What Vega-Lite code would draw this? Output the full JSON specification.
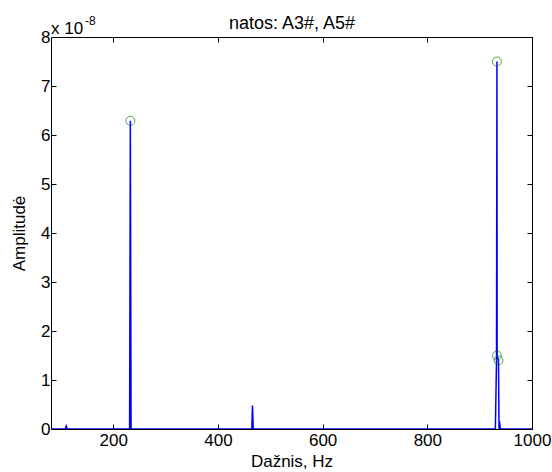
{
  "$schema": "https://vega.github.io/schema/vega-lite/v6.json",
  "width": 481,
  "height": 392,
  "autosize": "none",
  "padding": {"left": 51, "top": 37, "right": 20, "bottom": 43},
  "background": "white",
  "config": {
    "font": "Liberation Sans",
    "view": {"stroke": "black", "strokeWidth": 1},
    "axis": {
      "domain": false,
      "grid": false,
      "labelFlush": false,
      "tickColor": "black",
      "tickSize": -5,
      "tickWidth": 1,
      "labelFont": "Liberation Sans",
      "labelFontSize": 17,
      "labelColor": "black",
      "titleFont": "Liberation Sans",
      "titleFontSize": 17,
      "titleFontWeight": "normal",
      "titleColor": "black"
    }
  },
  "datasets": {
    "spectrum": [
      {"f": 81, "a": 0},
      {"f": 108, "a": 0},
      {"f": 110, "a": 0.06e-8},
      {"f": 112, "a": 0},
      {"f": 231.2, "a": 0},
      {"f": 232.6, "a": 6.29e-8},
      {"f": 234, "a": 0},
      {"f": 464.6, "a": 0},
      {"f": 466, "a": 0.48e-8},
      {"f": 467.4, "a": 0},
      {"f": 930, "a": 0},
      {"f": 932.2, "a": 1.4e-8},
      {"f": 933, "a": 7.5e-8},
      {"f": 933.4, "a": 1.5e-8},
      {"f": 936, "a": 1.4e-8},
      {"f": 937, "a": 0},
      {"f": 938, "a": 0.15e-8},
      {"f": 939.5, "a": 0},
      {"f": 1000, "a": 0}
    ],
    "peaks": [
      {"f": 232.6, "a": 6.29e-8},
      {"f": 933, "a": 7.5e-8},
      {"f": 933, "a": 1.5e-8},
      {"f": 936, "a": 1.4e-8}
    ],
    "exponent": [
      {"f": 81, "a": 8e-8, "base": "x 10", "exp": "-8"}
    ]
  },
  "layer": [
    {
      "data": {"name": "spectrum"},
      "mark": {"type": "line", "color": "#0000ff", "strokeWidth": 1.5, "clip": true},
      "encoding": {
        "x": {
          "field": "f", "type": "quantitative",
          "scale": {"domain": [81, 1000], "nice": false, "zero": false},
          "axis": {"values": [200, 400, 600, 800, 1000], "format": "d", "title": "Dažnis, Hz", "titlePadding": 5, "labelPadding": 8}
        },
        "y": {
          "field": "a", "type": "quantitative",
          "scale": {"domain": [0, 8e-8], "nice": false, "zero": false},
          "axis": {
            "values": [0, 1e-8, 2e-8, 3e-8, 4e-8, 5e-8, 6e-8, 7e-8, 8e-8],
            "labelExpr": "format(datum.value*1e8, '.0f')",
            "title": "Amplitudė",
            "titlePadding": 12,
            "labelPadding": 6
          }
        }
      }
    },
    {
      "data": {"name": "peaks"},
      "mark": {"type": "point", "shape": "circle", "color": "#008000", "filled": false, "size": 80, "strokeWidth": 1},
      "encoding": {
        "x": {"field": "f", "type": "quantitative", "scale": {"domain": [81, 1000], "nice": false, "zero": false}, "axis": {"orient": "top", "labels": false, "title": "natos: A3#, A5#", "titleFontSize": 18, "titlePadding": 4, "values": [200, 400, 600, 800, 1000]}},
        "y": {"field": "a", "type": "quantitative", "scale": {"domain": [0, 8e-8], "nice": false, "zero": false}, "axis": {"orient": "right", "labels": false, "title": null, "values": [0, 1e-8, 2e-8, 3e-8, 4e-8, 5e-8, 6e-8, 7e-8, 8e-8]}}
      }
    },
    {
      "data": {"name": "exponent"},
      "layer": [
        {
          "mark": {"type": "text", "align": "left", "baseline": "alphabetic", "dy": -3, "fontSize": 17, "font": "Liberation Sans", "color": "black", "clip": false},
          "encoding": {
            "x": {"field": "f", "type": "quantitative", "scale": {"domain": [81, 1000], "nice": false, "zero": false}, "axis": null},
            "y": {"field": "a", "type": "quantitative", "scale": {"domain": [0, 8e-8], "nice": false, "zero": false}, "axis": null},
            "text": {"field": "base"}
          }
        },
        {
          "mark": {"type": "text", "align": "left", "baseline": "alphabetic", "dx": 34, "dy": -12, "fontSize": 12, "font": "Liberation Sans", "color": "black", "clip": false},
          "encoding": {
            "x": {"field": "f", "type": "quantitative", "scale": {"domain": [81, 1000], "nice": false, "zero": false}, "axis": null},
            "y": {"field": "a", "type": "quantitative", "scale": {"domain": [0, 8e-8], "nice": false, "zero": false}, "axis": null},
            "text": {"field": "exp"}
          }
        }
      ]
    }
  ],
  "resolve": {"axis": {"x": "independent", "y": "independent"}}
}
